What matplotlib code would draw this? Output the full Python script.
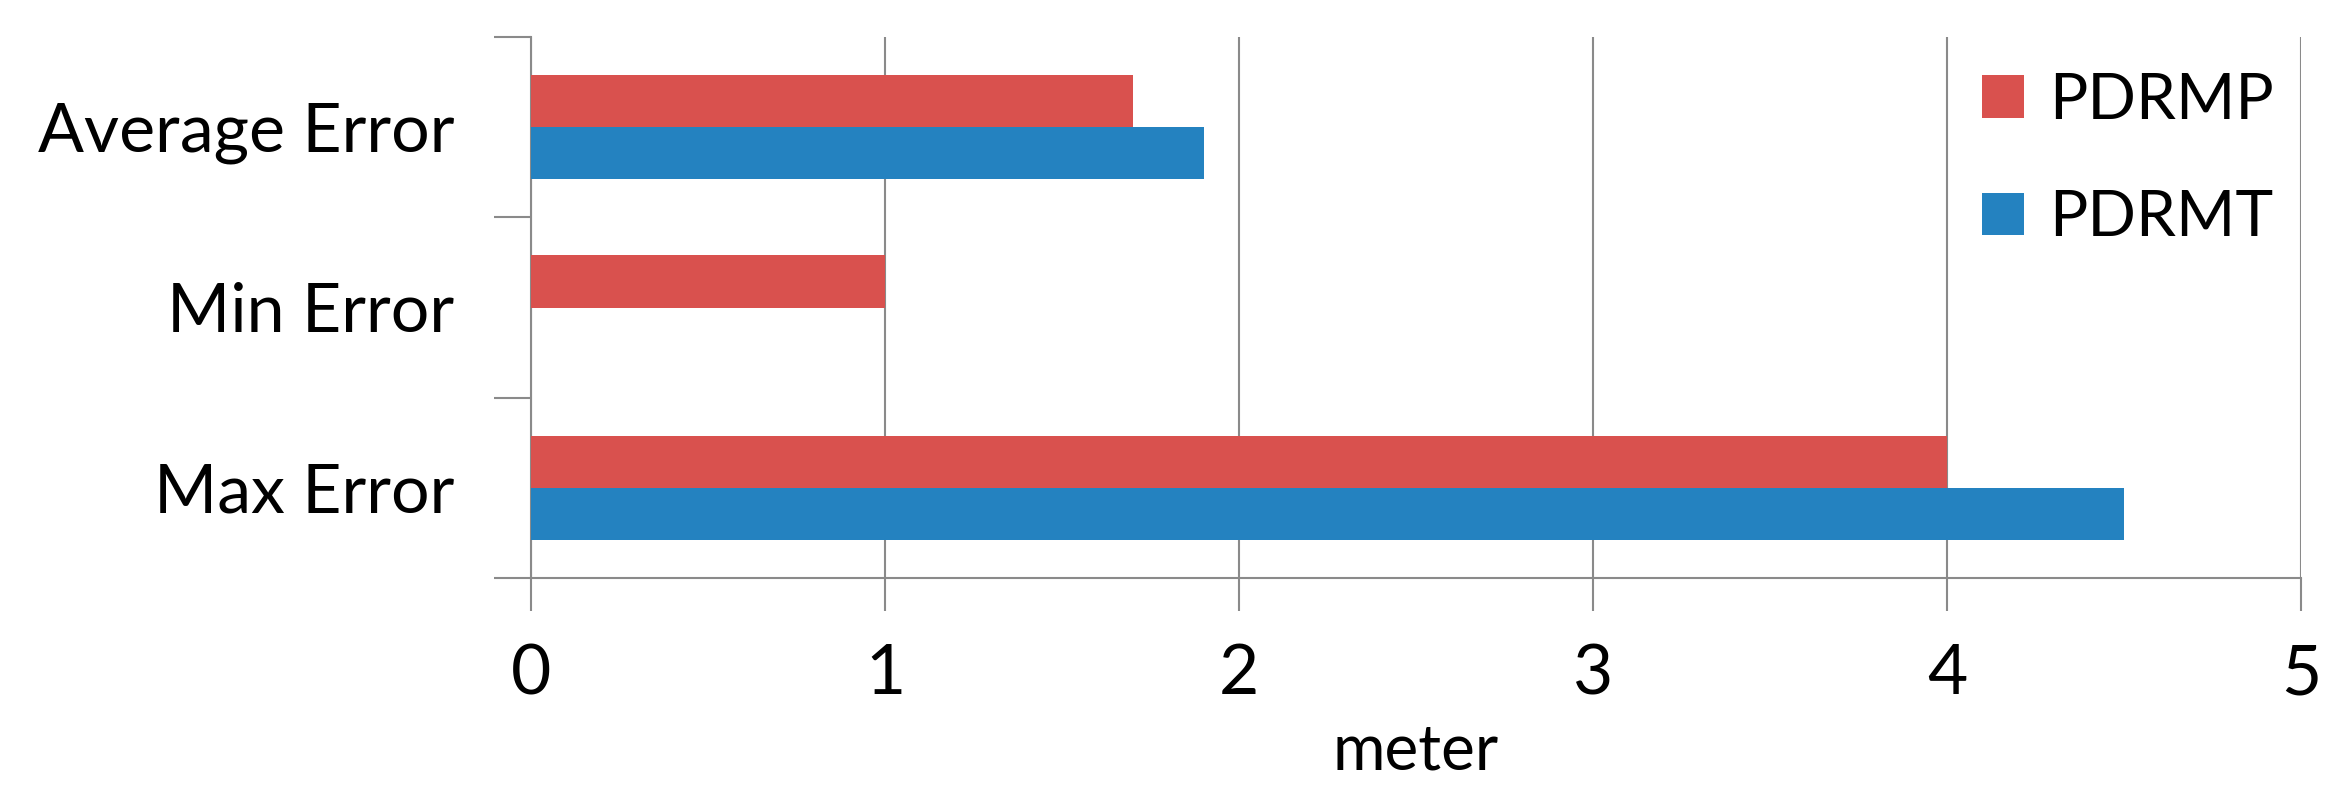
import matplotlib
matplotlib.use("Agg")
import matplotlib.pyplot as plt
import numpy as np

categories = ["Max Error", "Min Error", "Average Error"]
series_names = ["PDRMP", "PDRMT"]
pdrmp = [4.0, 1.0, 1.7]
pdrmt = [4.5, 0.0, 1.9]
x_ticks = [0, 1, 2, 3, 4, 5]
x_label = "meter"

colors = ["#D9514E", "#2482C0"]
grid_color = "#8A8A8A"

plt.rcParams['font.family'] = ['Lato', 'DejaVu Sans']

W, H = 2348, 795
fig = plt.figure(figsize=(W / 100, H / 100), dpi=100)
ax = fig.add_axes([531 / W, 1 - 578 / H, (2301 - 531) / W, (578 - 37) / H])

y = np.arange(len(categories))
bh = 0.29
ax.barh(y + bh / 2, pdrmp, height=bh, color=colors[0], label=series_names[0], zorder=3)
ax.barh(y - bh / 2, pdrmt, height=bh, color=colors[1], label=series_names[1], zorder=3)

ax.set_xlim(0, 5)
ax.set_ylim(-0.5, len(categories) - 0.5)
ax.set_xticks(x_ticks)
ax.set_xticklabels([str(t) for t in x_ticks], fontsize=50)
ax.set_yticks(np.arange(len(categories) + 1) - 0.5)
ax.set_yticklabels([])
ax.set_yticks(y, minor=True)
ax.set_yticklabels(categories, minor=True, fontsize=49)
ax.tick_params(axis='y', which='minor', length=0, pad=55)
ax.tick_params(axis='y', which='major', length=27, width=1.5, color=grid_color)
ax.tick_params(axis='x', which='major', length=24, width=1.5, color=grid_color, pad=23)

ax.grid(axis='x', color=grid_color, linewidth=1.5, zorder=0)
for s in ['top', 'right']:
    ax.spines[s].set_visible(False)
for s in ['left', 'bottom']:
    ax.spines[s].set_color(grid_color)
    ax.spines[s].set_linewidth(1.5)

ax.set_xlabel(x_label, fontsize=46, labelpad=12)

leg = ax.legend(loc='upper left', bbox_to_anchor=(1982 / W, 1 - 72 / H),
                bbox_transform=fig.transFigure, frameon=False, fontsize=46,
                handlelength=0.65, handleheight=0.65, handletextpad=0.4,
                labelspacing=0.93, borderpad=0, borderaxespad=0)

fig.savefig("out.png", dpi=100, facecolor="white")
